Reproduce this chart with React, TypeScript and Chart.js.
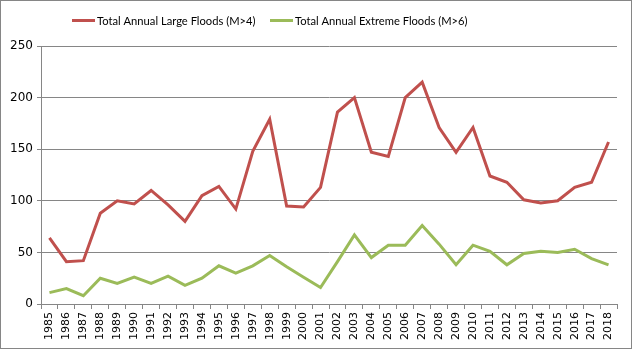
import React, { useEffect, useRef } from "react";
import { Chart, registerables } from "chart.js";

Chart.register(...registerables);

const years = [
  "1985", "1986", "1987", "1988", "1989", "1990", "1991", "1992", "1993", "1994",
  "1995", "1996", "1997", "1998", "1999", "2000", "2001", "2002", "2003", "2004",
  "2005", "2006", "2007", "2008", "2009", "2010", "2011", "2012", "2013", "2014",
  "2015", "2016", "2017", "2018",
];

const largeFloods = [
  64, 41, 42, 88, 100, 97, 110, 96, 80, 105,
  114, 92, 148, 179, 95, 94, 113, 186, 200, 147,
  143, 200, 215, 171, 147, 171, 124, 118, 101, 98,
  100, 113, 118, 157,
];

const extremeFloods = [
  11, 15, 8, 25, 20, 26, 20, 27, 18, 25,
  37, 30, 37, 47, 36, 26, 16, 41, 67, 45,
  57, 57, 76, 58, 38, 57, 51, 38, 49, 51,
  50, 53, 44, 38,
];

const yTicks = [0, 50, 100, 150, 200, 250];

const seriesLabels = ["Total Annual Large Floods (M>4)", "Total Annual Extreme Floods (M>6)"];
const seriesColors = ["#C0504D", "#9BBB59"];

const GRID = "#868686";

const customLegend = {
  id: "customLegend",
  afterDraw(chart: any) {
    const ctx = chart.ctx;
    const starts = [72, 270];
    ctx.save();
    chart.data.datasets.forEach((ds: any, i: number) => {
      const x = starts[i];
      const y = 20;
      ctx.strokeStyle = ds.borderColor;
      ctx.lineWidth = 3;
      ctx.beginPath();
      ctx.moveTo(x, y + 0.5);
      ctx.lineTo(x + 23, y + 0.5);
      ctx.stroke();
      ctx.fillStyle = "#000";
      ctx.font = "11.2px Lato, sans-serif";
      ctx.textBaseline = "middle";
      ctx.textAlign = "left";
      ctx.fillText(ds.label, x + 25, y + 1);
    });
    ctx.restore();
  },
};

const frameBorder = {
  id: "frameBorder",
  afterDraw(chart: any) {
    const ctx = chart.ctx;
    ctx.save();
    ctx.strokeStyle = GRID;
    ctx.lineWidth = 1;
    ctx.strokeRect(0.5, 0.5, chart.width - 1, chart.height - 1);
    ctx.restore();
  },
};

export default function App() {
  const ref = useRef<HTMLCanvasElement | null>(null);

  useEffect(() => {
    if (!ref.current) return;
    const chart = new Chart(ref.current, {
      type: "line",
      data: {
        labels: years,
        datasets: [
          {
            label: seriesLabels[0],
            data: largeFloods,
            borderColor: seriesColors[0],
            backgroundColor: seriesColors[0],
            borderWidth: 3,
            pointRadius: 0,
            tension: 0,
          },
          {
            label: seriesLabels[1],
            data: extremeFloods,
            borderColor: seriesColors[1],
            backgroundColor: seriesColors[1],
            borderWidth: 3,
            pointRadius: 0,
            tension: 0,
          },
        ],
      },
      options: {
        responsive: false,
        animation: false,
        devicePixelRatio: 1,
        layout: { padding: { left: 0, top: 46, right: 15, bottom: 0 } },
        plugins: {
          legend: { display: false },
          tooltip: { enabled: false },
        },
        scales: {
          x: {
            offset: true,
            afterFit(scale: any) {
              scale.height = 45;
            },
            grid: {
              offset: true,
              drawOnChartArea: false,
              drawTicks: true,
              tickLength: 5,
              color: GRID,
            },
            border: { display: true, color: GRID },
            ticks: {
              minRotation: 90,
              maxRotation: 90,
              autoSkip: false,
              padding: 3,
              color: "#000",
              font: { family: "DejaVu Sans", size: 11 },
            },
          },
          y: {
            min: 0,
            max: 250,
            afterFit(scale: any) {
              scale.width = 41;
            },
            afterBuildTicks(scale: any) {
              scale.ticks = yTicks.map((v) => ({ value: v }));
            },
            grid: {
              color: GRID,
              tickLength: 4,
              drawTicks: true,
            },
            border: { display: true, color: GRID },
            ticks: {
              padding: 4,
              color: "#000",
              font: { family: "DejaVu Sans", size: 12 },
            },
          },
        },
      },
      plugins: [customLegend, frameBorder],
    });
    return () => chart.destroy();
  }, []);

  return (
    <div style={{ position: "absolute", left: 0, top: 0, width: 632, height: 349 }}>
      <canvas ref={ref} width={632} height={349} style={{ display: "block" }} />
    </div>
  );
}
